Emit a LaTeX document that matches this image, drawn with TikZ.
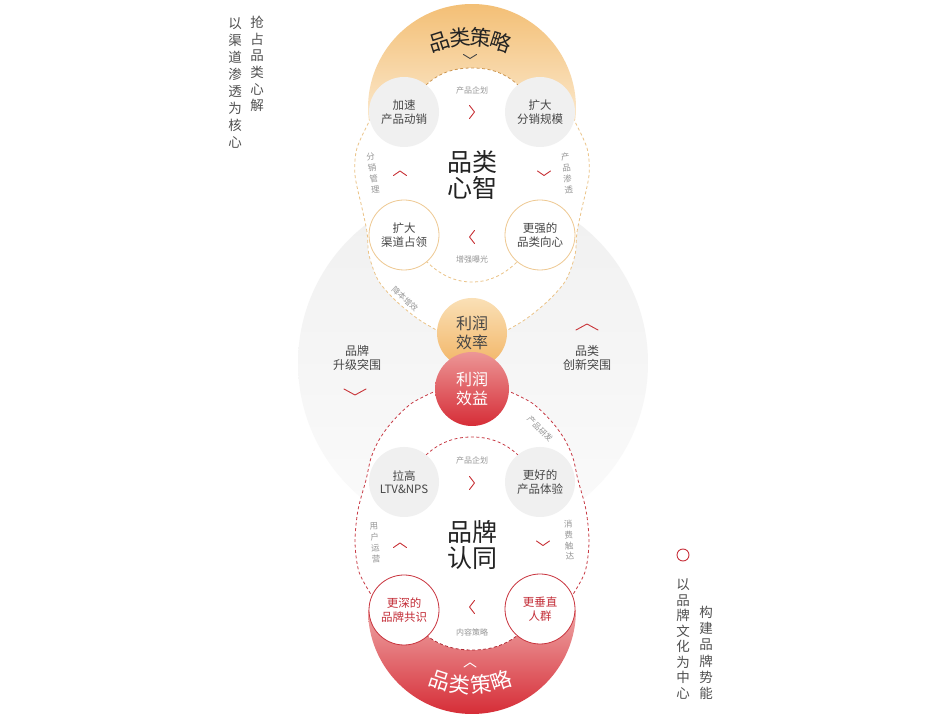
\documentclass[tikz,border=0pt]{standalone}
\usepackage{fontspec}
\setmainfont{Noto Sans CJK SC}
\definecolor{cbg1}{RGB}{240,240,240}
\definecolor{cbg2}{RGB}{251,251,251}
\definecolor{corg1}{RGB}{243,190,115}
\definecolor{corg2}{RGB}{251,232,204}
\definecolor{cred1}{RGB}{214,45,55}
\definecolor{cred2}{RGB}{238,165,165}
\definecolor{cfill}{RGB}{240,240,240}
\definecolor{ctxt}{RGB}{70,70,70}
\definecolor{cbig}{RGB}{35,35,35}
\definecolor{coline}{RGB}{238,200,145}
\definecolor{crline}{RGB}{200,50,60}
\definecolor{crtxt}{RGB}{195,45,55}
\definecolor{clbl}{RGB}{150,150,150}
\definecolor{cchev}{RGB}{200,50,55}
\definecolor{codash}{RGB}{235,195,135}
\definecolor{codashd}{RGB}{205,150,80}
\definecolor{crdash}{RGB}{200,60,70}
\definecolor{crdashd}{RGB}{175,40,50}
\definecolor{ccol}{RGB}{80,80,80}
\definecolor{cy1}{RGB}{250,224,182}
\definecolor{cy2}{RGB}{242,180,100}
\definecolor{cr1}{RGB}{236,150,150}
\definecolor{cr2}{RGB}{214,45,55}
\begin{document}
\begin{tikzpicture}[x=1pt,y=1pt,
  gcirc/.style={circle, fill=cfill, minimum size=70pt, inner sep=0pt, text=ctxt, align=center, font=\fontsize{11.5}{13.5}\selectfont},
  ocirc/.style={gcirc, fill=white, draw=coline, line width=0.8pt},
  rcirc/.style={gcirc, fill=white, draw=crline, line width=0.8pt, text=crtxt},
  lbl/.style={text=clbl, font=\fontsize{8}{9.5}\selectfont, inner sep=0pt, align=center},
  vlbl/.style={text=clbl, font=\fontsize{8.5}{11}\selectfont, inner sep=0pt, align=center},
  chev/.style={draw=cchev, line width=0.9pt, line cap=round, line join=round},
  odash/.style={draw=codash, line width=0.8pt, dash pattern=on 3pt off 2.5pt},
  odashd/.style={draw=codashd, line width=0.8pt, dash pattern=on 3pt off 2.5pt},
  rdash/.style={draw=crdash, line width=0.8pt, dash pattern=on 3pt off 2.5pt},
  rdashd/.style={draw=crdashd, line width=0.8pt, dash pattern=on 3pt off 2.5pt},
  bigtxt/.style={text=cbig, font=\fontsize{25}{26}\selectfont, align=center, inner sep=0pt},
  midtxt/.style={text=ctxt, font=\fontsize{12}{14.5}\selectfont, align=center, inner sep=0pt},
  vcolumn/.style={text=ccol, align=center, inner sep=0pt},
  arctitle/.style={font=\fontsize{21}{21}\selectfont, inner sep=0pt},
  midcirc/.style={circle, inner sep=0pt, align=center, font=\fontsize{16}{19}\selectfont},
]
\useasboundingbox (0,0) rectangle (945,720);
\fill[white] (0,0) rectangle (945,720);

% big background circle
\shade[top color=cbg1, bottom color=cbg2] (473,357) circle (175);

% orange top and red bottom half discs
\shade[top color=corg1, bottom color=corg2] ([shift={(472,612)}]186.6:104) arc[start angle=186.6, end angle=-6.6, radius=104] -- cycle;
\shade[top color=cred2, bottom color=cred1] (368,110) arc[start angle=180, end angle=360, radius=104] -- cycle;

% white cloud regions
\fill[white] plot[smooth] coordinates {(371,602) (357,572) (355,545) (362,512) (367,488) (369,465) (378,440) (395,420) (418,401) (440,388)}
  -- plot[smooth] coordinates {(504,388) (526,401) (549,420) (566,440) (575,465) (577,488) (582,512) (589,545) (587,572) (573,602)}
  -- (540,608) -- (518,635) .. controls (504,648) and (489,652) .. (472,652) .. controls (455,652) and (440,648) .. (426,635) -- (404,608) -- cycle;
\fill[white] plot[smooth] coordinates {(438,330) (412,317) (392,298) (379,280) (371,262) (366,240) (358,210) (355,178) (359,148) (372,124)}
  -- (404,110) -- (426,85) .. controls (440,74) and (455,70) .. (472,70) .. controls (489,70) and (504,74) .. (518,85) -- (540,110)
  -- plot[smooth] coordinates {(572,124) (585,148) (589,178) (586,210) (578,240) (573,262) (565,280) (552,298) (532,317) (506,330)} -- cycle;

% dashed outlines
\draw[odash] plot[smooth] coordinates {(371,602) (357,572) (355,545) (362,512) (367,488) (369,465) (378,440) (395,420) (418,401) (440,388)};
\draw[odash] plot[smooth] coordinates {(573,602) (587,572) (589,545) (582,512) (577,488) (575,465) (566,440) (549,420) (526,401) (504,388)};
\draw[odashd] (426,635) .. controls (440,648) and (455,652) .. (472,652) .. controls (489,652) and (504,648) .. (518,635);
\draw[odash] (426,459) .. controls (440,445) and (455,438) .. (472,438) .. controls (489,438) and (504,445) .. (518,459);
\draw[rdash] plot[smooth] coordinates {(438,330) (412,317) (392,298) (379,280) (371,262) (366,240) (358,210) (355,178) (359,148) (372,124)};
\draw[rdash] plot[smooth] coordinates {(506,330) (532,317) (552,298) (565,280) (573,262) (578,240) (586,210) (589,178) (585,148) (572,124)};
\draw[rdash] (426,265) .. controls (440,278) and (455,283) .. (472,283) .. controls (489,283) and (504,278) .. (518,265);
\draw[rdashd] (426,85) .. controls (440,74) and (455,70) .. (472,70) .. controls (489,70) and (504,74) .. (518,85);

% circles
\node[gcirc] (c1) at (404,608) {加速\\产品动销};
\node[gcirc] (c2) at (540,608) {扩大\\分销规模};
\node[ocirc] (c3) at (404,485) {扩大\\渠道占领};
\node[ocirc] (c4) at (540,485) {更强的\\品类向心};
\node[gcirc] (c5) at (404,238) {拉高\\LTV\&NPS};
\node[gcirc] (c6) at (540,238) {更好的\\产品体验};
\node[rcirc] (c7) at (404,110) {更深的\\品牌共识};
\node[rcirc] (c8) at (540,111) {更垂直\\人群};

\node[midcirc, minimum size=70pt, top color=cy1, bottom color=cy2, text=ctxt] (eff) at (472,387) {利润\\效率};
\node[midcirc, minimum size=74pt, top color=cr1, bottom color=cr2, text=white] (ben) at (472,331) {利润\\效益};

% centre texts
\node[bigtxt] (t1) at (472,545) {品类\\心智};
\node[bigtxt] (t2) at (472,175) {品牌\\认同};
\node[midtxt] (lt) at (357,362) {品牌\\升级突围};
\node[midtxt] (rt) at (587,362) {品类\\创新突围};

% small labels
\node[lbl] (l1) at (472,630) {产品企划};
\node[vlbl, rotate=8] (l2) at (373,547) {分\\销\\管\\理};
\node[vlbl, rotate=6] (l3) at (567,547) {产\\品\\渗\\透};
\node[lbl] (l4) at (472,461) {增强曝光};
\node[lbl, rotate=-42] (l5) at (405,421) {降本增效};
\node[lbl, rotate=-45] (l6) at (540,291) {产品研发};
\node[lbl] (l7) at (472,260) {产品企划};
\node[vlbl, rotate=4] (l8) at (375,177) {用\\户\\运\\营};
\node[vlbl, rotate=3] (l9) at (569,180) {消\\费\\触\\达};
\node[lbl] (l10) at (472,88) {内容策略};

% chevrons
\draw[chev] (469.5,614.5) -- (474.5,608) -- (469.5,601.5);
\draw[chev] (474.5,489.5) -- (469.5,483) -- (474.5,476.5);
\draw[chev] (393.5,544.5) -- (400,549) -- (406.5,544.5);
\draw[chev] (537.5,549) -- (544,544.5) -- (550.5,549);
\draw[chev] (469.5,243.5) -- (474.5,237) -- (469.5,230.5);
\draw[chev] (474.5,119.5) -- (469.5,113) -- (474.5,106.5);
\draw[chev] (393.5,172.5) -- (400,177) -- (406.5,172.5);
\draw[chev] (536.5,179) -- (543,174.5) -- (549.5,179);
\draw[chev] (344,331) -- (355,325) -- (366,331);
\draw[chev] (576,390) -- (587,396) -- (598,390);
\draw[draw=ctxt, line width=0.9pt, line cap=round] (463.5,665.5) -- (470,661.5) -- (476.5,665.5);
\draw[draw=white, line width=0.9pt, line cap=round] (464,53) -- (470,57) -- (476,53);

% arched titles
\node[arctitle, text=cbig, rotate=18] (a1) at ([shift={(470.5,583)}]108:100) {品};
\node[arctitle, text=cbig, rotate=6] (a2) at ([shift={(470.5,583)}]96:100) {类};
\node[arctitle, text=cbig, rotate=-6] (a3) at ([shift={(470.5,583)}]84:100) {策};
\node[arctitle, text=cbig, rotate=-18] (a4) at ([shift={(470.5,583)}]72:100) {略};
\node[arctitle, text=white, rotate=-18] (b1) at ([shift={(470.5,135)}]252:100) {品};
\node[arctitle, text=white, rotate=-6] (b2) at ([shift={(470.5,135)}]264:100) {类};
\node[arctitle, text=white, rotate=6] (b3) at ([shift={(470.5,135)}]276:100) {策};
\node[arctitle, text=white, rotate=18] (b4) at ([shift={(470.5,135)}]288:100) {略};

% vertical columns
\node[vcolumn, font=\fontsize{13.5}{16.6}\selectfont] (v1) at (257,656) {抢\\占\\品\\类\\心\\解};
\node[vcolumn, font=\fontsize{13.5}{17.1}\selectfont] (v2) at (235,637) {以\\渠\\道\\渗\\透\\为\\核\\心};
\node[vcolumn, font=\fontsize{13.5}{15.5}\selectfont] (v3) at (683,81) {以\\品\\牌\\文\\化\\为\\中\\心};
\node[vcolumn, font=\fontsize{13.5}{16.3}\selectfont] (v4) at (706,67) {构\\建\\品\\牌\\势\\能};
\node[circle, draw=crline, line width=0.9pt, minimum size=12pt, inner sep=0pt] (dot) at (683,165) {};
\end{tikzpicture}
\end{document}
